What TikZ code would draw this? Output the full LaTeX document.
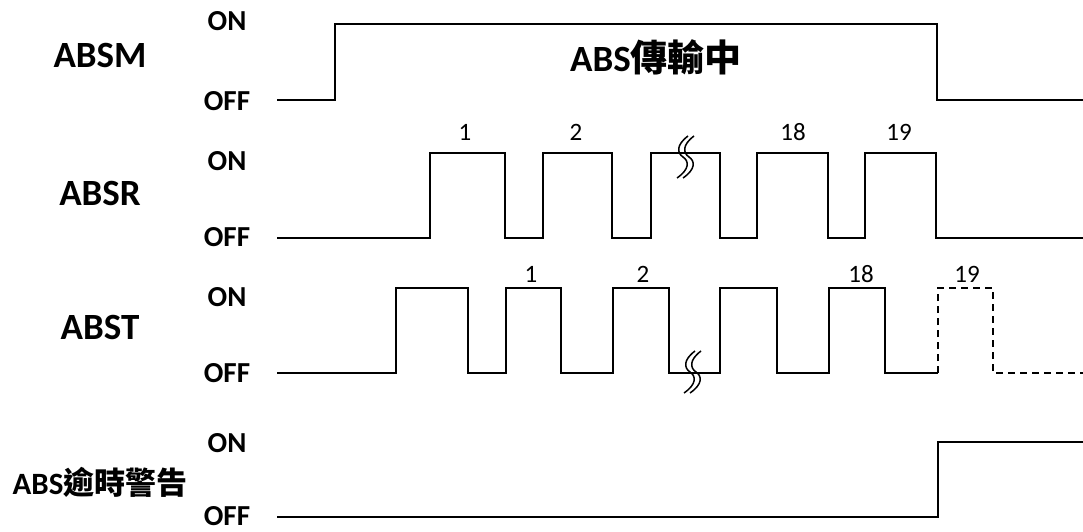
\documentclass[tikz,border=0pt]{standalone}
\usepackage{fontspec}
\setmainfont{Carlito}
\newfontfamily\cjk{Noto Sans CJK TC}
\usetikzlibrary{positioning}

\tikzset{
  wave/.style={line width=2pt, line join=miter},
  ghost/.style={wave, dash pattern=on 7pt off 5pt},
  sigtext/.style={font=\fontsize{37}{40}\selectfont\bfseries},
  warntext/.style={font=\fontsize{31}{33}\selectfont\bfseries},
  lvltext/.style={inner sep=1pt, font=\fontsize{29}{30}\selectfont\bfseries},
  numtext/.style={font=\fontsize{25}{26}\selectfont},
  breakmark/.pic={
    \draw[line width=1.5pt] (5,-21) .. controls (-7,-12) and (-6,-4) .. (0,0)
      .. controls (6,4) and (7,12) .. (-6,21);
    \draw[line width=1.5pt] (11,-21) .. controls (-1,-12) and (0,-4) .. (6,0)
      .. controls (12,4) and (13,12) .. (0,21);
  }
}

\begin{document}
\begin{tikzpicture}[x=1pt,y=-1pt]
    \useasboundingbox (0,0) rectangle (1083,532);

    % Signal names
    \node[sigtext] (absm) at (100,55) {ABSM};
    \node[sigtext] (absr) at (100,193) {ABSR};
    \node[sigtext] (abst) at (100,327) {ABST};
    \node[warntext] (absw) at (100,482) {ABS{\cjk 逾時警告}};

    % ON / OFF levels
    \node[lvltext] (absm-on)  at (227,21)  {ON};
    \node[lvltext] (absm-off) at (227,101) {OFF};
    \node[lvltext] (absr-on)  at (227,161) {ON};
    \node[lvltext] (absr-off) at (227,237) {OFF};
    \node[lvltext] (abst-on)  at (227,297) {ON};
    \node[lvltext] (abst-off) at (227,373) {OFF};
    \node[lvltext] (absw-on)  at (227,443) {ON};
    \node[lvltext] (absw-off) at (227,516) {OFF};

    % ABSM
    \draw[wave] (277,100) -- (335,100) -- (335,24) -- (937,24) -- (937,100) -- (1083,100);
    \node[sigtext] (busy) at (656,57) {ABS{\cjk 傳輸中}};

    % ABSR pulses
    \draw[wave] (277,238) \foreach \a/\b in {430/505,543/612,651/720,757/828,865/936}
      { -- (\a,238) -- (\a,153) -- (\b,153) -- (\b,238) } -- (1083,238);
    \pic at (683,157) {breakmark};
    \node[numtext] (r1)  at (465,132) {1};
    \node[numtext] (r2)  at (576,132) {2};
    \node[numtext] (r18) at (793,132) {18};
    \node[numtext] (r19) at (899,132) {19};

    % ABST pulses
    \draw[wave] (277,373) \foreach \a/\b in {396/468,506/561,613/669,720/777,829/885}
      { -- (\a,373) -- (\a,288) -- (\b,288) -- (\b,373) } -- (938,373);
    \draw[ghost] (938,373) -- (938,288) -- (993,288) -- (993,373) -- (1083,373);
    \pic at (690,372) {breakmark};
    \node[numtext] (t1)  at (531,274) {1};
    \node[numtext] (t2)  at (643,274) {2};
    \node[numtext] (t18) at (861,274) {18};
    \node[numtext] (t19) at (967,274) {19};

    % ABS timeout warning
    \draw[wave] (277,517) -- (938,517) -- (938,442) -- (1083,442);
\end{tikzpicture}
\end{document}
